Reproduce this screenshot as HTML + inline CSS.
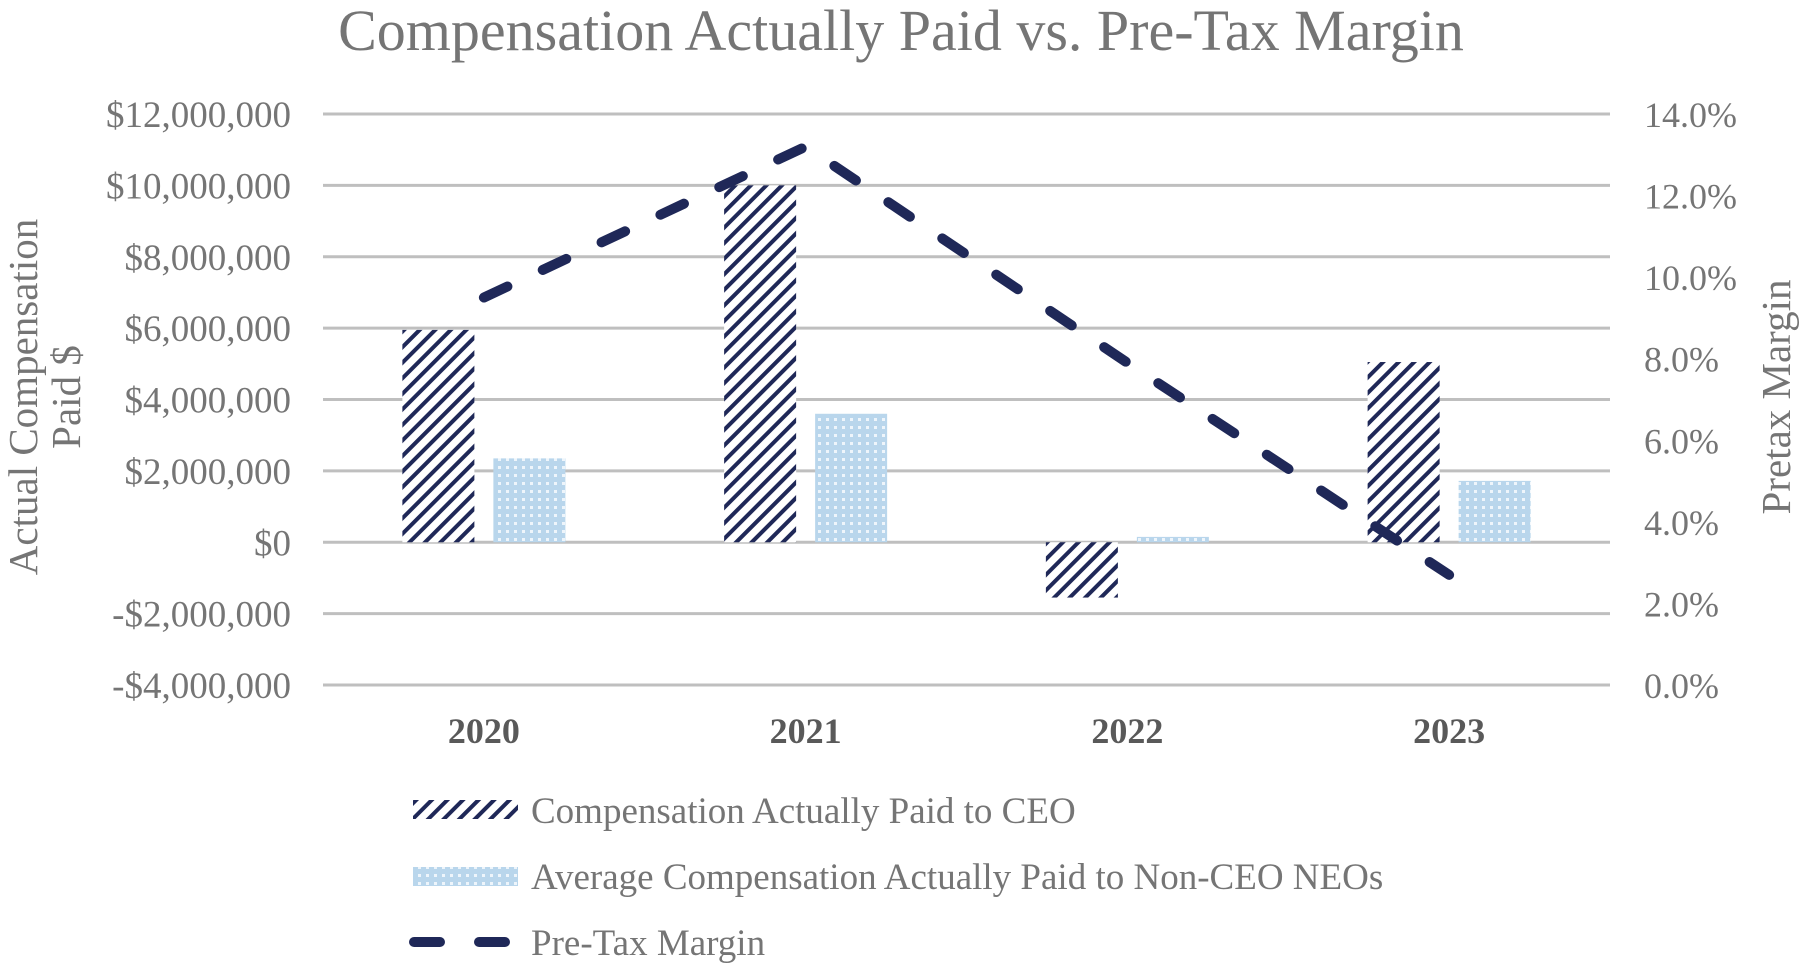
<!DOCTYPE html>
<html><head><meta charset="utf-8">
<style>
html,body{margin:0;padding:0;background:#fff;}
svg{display:block;font-family:"Liberation Serif",serif;}
</style></head>
<body>
<svg id="chart" width="1803" height="966" viewBox="0 0 1803 966">
<defs>
<pattern id="hatch" patternUnits="userSpaceOnUse" width="11" height="11" patternTransform="rotate(45)">
<rect width="11" height="11" fill="#fff"/>
<rect x="0" y="0" width="4" height="11" fill="#1f2858"/>
</pattern>
<pattern id="dots" patternUnits="userSpaceOnUse" width="8" height="8">
<rect width="8" height="8" fill="#b9d6ec"/>
<rect x="2" y="2" width="3" height="3" fill="#eef5fb"/>
</pattern>
</defs>
<text x="901" y="50" font-size="58" fill="#757575" text-anchor="middle">Compensation Actually Paid vs. Pre-Tax Margin</text>
<g id="grid"></g>
<g id="bars"></g>
<g id="line"></g>
<g id="labels"></g>
<text transform="translate(37,397) rotate(-90)" font-size="41" fill="#757575" text-anchor="middle">Actual Compensation</text>
<text transform="translate(80,397) rotate(-90)" font-size="41" fill="#757575" text-anchor="middle">Paid $</text>
<text transform="translate(1790,397) rotate(-90)" font-size="41" fill="#757575" text-anchor="middle">Pretax Margin</text>
<g>
<rect x="413" y="800" width="105" height="19" fill="url(#hatch)"/>
<text x="531" y="823" font-size="37" fill="#757575">Compensation Actually Paid to CEO</text>
<rect x="413" y="867" width="105" height="19" fill="url(#dots)"/>
<text x="531" y="889" font-size="37" fill="#757575">Average Compensation Actually Paid to Non-CEO NEOs</text>
<line x1="414" y1="942" x2="518" y2="942" stroke="#1f2858" stroke-width="10" stroke-linecap="round" stroke-dasharray="26 39"/>
<text x="531" y="955" font-size="37" fill="#757575">Pre-Tax Margin</text>
</g>
</svg>
<script>
const categories = ["2020","2021","2022","2023"];
const ceoValues = [5950000, 10000000, -1550000, 5050000];
const neoValues = [2350000, 3600000, 150000, 1720000];
const marginValues = [9.5, 13.2, 7.9, 2.7];
const leftTicks = [12000000,10000000,8000000,6000000,4000000,2000000,0,-2000000,-4000000];
const leftTickLabels = ["$12,000,000","$10,000,000","$8,000,000","$6,000,000","$4,000,000","$2,000,000","$0","-$2,000,000","-$4,000,000"];
const rightTicks = [14,12,10,8,6,4,2,0];
const rightTickLabels = ["14.0%","12.0%","10.0%","8.0%","6.0%","4.0%","2.0%","0.0%"];

const NS="http://www.w3.org/2000/svg";
const plotL=323, plotR=1610, yTop=114, yBot=685;
const yL=v=>yBot-(v-(-4000000))/(16000000)*(yBot-yTop);
const yR=v=>yBot-v/14*(yBot-yTop);
const band=(plotR-plotL)/categories.length;
const xC=i=>plotL+band*(i+0.5);
function mk(tag,attrs,parent){const e=document.createElementNS(NS,tag);for(const k in attrs)e.setAttribute(k,attrs[k]);parent.appendChild(e);return e;}
const grid=document.getElementById('grid'),bars=document.getElementById('bars'),line=document.getElementById('line'),labels=document.getElementById('labels');
leftTicks.forEach((t,i)=>{
  const g=mk('line',{x1:plotL,x2:plotR,y1:yL(t),y2:yL(t),stroke:'#bfbfbf','stroke-width':3},grid);
  
  
  const tx=mk('text',{x:291,y:yL(t)+13,'font-size':37,fill:'#757575','text-anchor':'end'},labels);
  tx.textContent=leftTickLabels[i];
  
  
});
rightTicks.forEach((t,i)=>{
  const tx=mk('text',{x:1644,y:yR(t)+13,'font-size':36,fill:'#757575'},labels);
  tx.textContent=rightTickLabels[i];
  
  
});
const bw=72, gap=19;
categories.forEach((c,i)=>{
  const cx=xC(i);
  const y0=yL(0);
  const yc=yL(ceoValues[i]);
  const b1=mk('rect',{x:cx-gap/2-bw,y:Math.min(y0,yc),width:bw,height:Math.abs(y0-yc),fill:'url(#hatch)'},bars);
  
  
  const yn=yL(neoValues[i]);
  const b2=mk('rect',{x:cx+gap/2,y:Math.min(y0,yn),width:bw,height:Math.abs(y0-yn),fill:'url(#dots)'},bars);
  
  
  const tx=mk('text',{x:cx,y:743,'font-size':36,'font-weight':'bold',fill:'#595959','text-anchor':'middle'},labels);
  tx.textContent=c;
  
  
});
const pts=marginValues.map((v,i)=>xC(i)+','+yR(v)).join(' ');
const pl=mk('polyline',{points:pts,fill:'none',stroke:'#1f2858','stroke-width':10,'stroke-linecap':'round','stroke-linejoin':'round','stroke-dasharray':'26 39'},line);


</script>
</body></html>
